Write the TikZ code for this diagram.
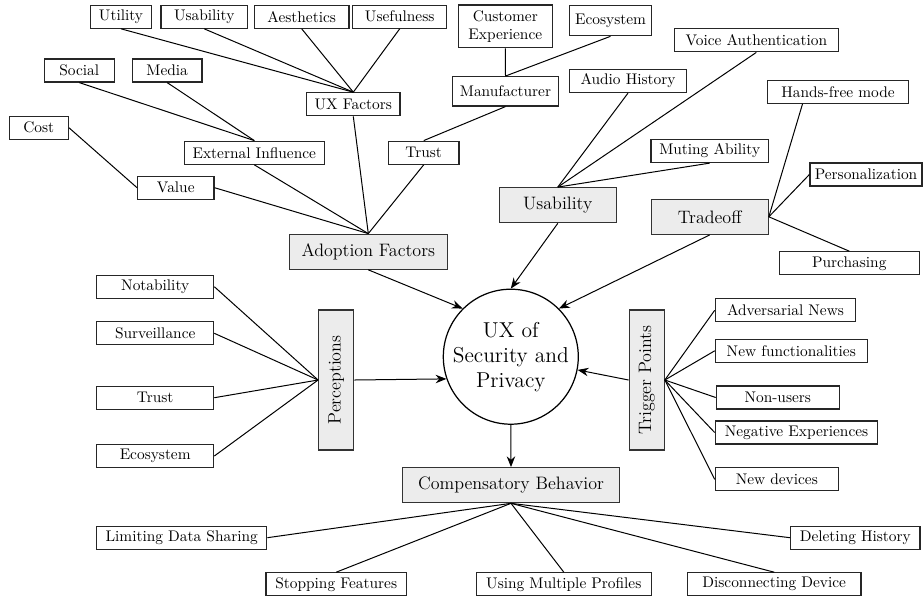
\documentclass[tikz,border=0pt]{standalone}
\usetikzlibrary{arrows.meta,calc}
\newdimen\pxu
\pxu=0.65pt
\begin{document}
\begin{tikzpicture}[x=0.65pt,y=-0.65pt,
  leaf/.style={draw=black!85,line width=0.8pt,fill=white,inner sep=1pt,minimum height=23\pxu,font=\fontsize{10}{11.5}\selectfont},
  topic/.style={draw=black!80,line width=0.8pt,fill=gray!15,inner sep=1pt,minimum height=35\pxu,font=\fontsize{11.7}{14}\selectfont},
  link/.style={line width=0.65pt},
  arr/.style={line width=0.65pt,-{Stealth[length=7pt,width=5.5pt]}}]
\clip (0,0) rectangle (923,601);
\useasboundingbox (0,0) rectangle (923,601);
\node[draw,circle,line width=0.8pt,minimum size=128\pxu,inner sep=0pt,align=center,font=\fontsize{14}{16.3}\selectfont] (circ) at (510.8,356.7) {UX of\\Security and\\Privacy};
\node[topic,minimum width=158\pxu] (adopt) at (368.3,251.7) {Adoption Factors};
\node[topic,minimum width=117\pxu] (usabg) at (557.8,205.2) {Usability};
\node[topic,minimum width=117\pxu] (trade) at (709.7,216.8) {Tradeoff};
\node[topic,rotate=90,minimum width=140\pxu] (perc) at (336.2,380) {Perceptions};
\node[topic,rotate=90,minimum width=140\pxu] (trig) at (646.7,380) {Trigger Points};
\node[topic,minimum width=216.6\pxu] (comp) at (511,485.2) {Compensatory Behavior};
\node[leaf,minimum width=60.3\pxu] (utility) at (121,16.7) {Utility};
\node[leaf,minimum width=86.3\pxu] (usab) at (204.2,16.7) {Usability};
\node[leaf,minimum width=94.7\pxu] (aesth) at (301.7,16.7) {Aesthetics};
\node[leaf,minimum width=94\pxu] (usef) at (399.7,16.7) {Usefulness};
\node[leaf,minimum width=94\pxu,minimum height=42.7\pxu,align=center] (custexp) at (505.3,26.3) {Customer\\Experience};
\node[leaf,minimum width=82.4\pxu,minimum height=30\pxu] (ecotop) at (610.5,20.7) {Ecosystem};
\node[leaf,minimum width=70\pxu] (social) at (79.3,70.5) {Social};
\node[leaf,minimum width=69.7\pxu] (media) at (167.2,70.5) {Media};
\node[leaf,minimum width=93.3\pxu] (uxf) at (353.3,104.3) {UX Factors};
\node[leaf,minimum width=105.6\pxu,minimum height=29.3\pxu] (manuf) at (505.5,91.3) {Manufacturer};
\node[leaf,minimum width=164\pxu] (voice) at (756.3,40.3) {Voice Authentication};
\node[leaf,minimum width=117.4\pxu] (audio) at (628,81) {Audio History};
\node[leaf,minimum width=140.6\pxu] (hands) at (838,91.7) {Hands-free mode};
\node[leaf,minimum width=59\pxu] (cost) at (38.8,127.7) {Cost};
\node[leaf,minimum width=140\pxu] (extinf) at (254.3,152.7) {External Influence};
\node[leaf,minimum width=70.7\pxu] (trusttop) at (423.7,152.7) {Trust};
\node[leaf,minimum width=117.3\pxu] (muting) at (709.7,151) {Muting Ability};
\node[leaf,inner sep=0.5pt,minimum width=112\pxu] (perso) at (866,174.5) {Personalization};
\node[leaf,minimum width=76.3\pxu] (value) at (175.8,187.7) {Value};
\node[leaf,minimum width=140\pxu] (purch) at (849.3,263.3) {Purchasing};
\node[leaf,minimum width=117\pxu] (notab) at (155.2,286.7) {Notability};
\node[leaf,minimum width=117\pxu] (surv) at (155.2,333.3) {Surveillance};
\node[leaf,minimum width=117\pxu] (trustl) at (155.2,397.7) {Trust};
\node[leaf,minimum width=117\pxu] (ecol) at (155.2,456) {Ecosystem};
\node[leaf,minimum width=140.4\pxu] (adv) at (785.5,310.3) {Adversarial News};
\node[leaf,minimum width=152\pxu] (newf) at (791.3,350.8) {New functionalities};
\node[leaf,minimum width=123\pxu] (nonu) at (777.8,397.5) {Non-users};
\node[leaf,minimum width=162.4\pxu] (neg) at (796.5,432.5) {Negative Experiences};
\node[leaf,minimum width=123\pxu] (newd) at (776.8,479.3) {New devices};
\node[leaf,minimum width=170\pxu] (limit) at (181.7,537.7) {Limiting Data Sharing};
\node[leaf,minimum width=129.3\pxu] (delhist) at (855.3,537.7) {Deleting History};
\node[leaf,minimum width=140.3\pxu] (stop) at (336.2,584.3) {Stopping Features};
\node[leaf,minimum width=175\pxu] (multi) at (563.8,584.3) {Using Multiple Profiles};
\node[leaf,minimum width=173.7\pxu] (disc) at (774.2,584.3) {Disconnecting Device};
\foreach \n in {utility,usab,aesth,usef}
  \draw[link] (\n.south) -- (uxf.north);
\foreach \n in {social,media}
  \draw[link] (\n.south) -- (extinf.north);
\draw[link] (cost.east) -- (value.west);
\foreach \n in {uxf,extinf,trusttop}
  \draw[link] (\n.south) -- (adopt.north);
\draw[link] (value.east) -- (adopt.north);
\foreach \n in {custexp,ecotop}
  \draw[link] (\n.south) -- (manuf.north);
\draw[link] (manuf.south) -- (trusttop.north);
\foreach \n in {audio,voice,muting}
  \draw[link] (\n.south) -- (usabg.north);
\draw[link] ($(hands.south west)!0.25!(hands.south east)$) -- (trade.east);
\draw[link] (perso.west) -- (trade.east);
\draw[link] (purch.north) -- (trade.east);
\foreach \n in {notab,surv,trustl,ecol}
  \draw[link] (\n.east) -- (perc.north);
\foreach \n in {adv,newf,nonu,neg,newd}
  \draw[link] (trig.south) -- (\n.west);
\draw[link] (comp.south) -- (limit.east);
\draw[link] (comp.south) -- (delhist.west);
\foreach \n in {stop,multi,disc}
  \draw[link] (comp.south) -- (\n.north);
\draw[arr] (adopt.south) -- (circ.north west);
\draw[arr] (usabg.south) -- (circ.north);
\draw[arr] (trade.south) -- (circ.north east);
\draw[arr] (perc.south) -- (circ.199);
\draw[arr] (trig.north) -- (circ);
\draw[arr] (circ.south) -- (comp.north);
\end{tikzpicture}
\end{document}
